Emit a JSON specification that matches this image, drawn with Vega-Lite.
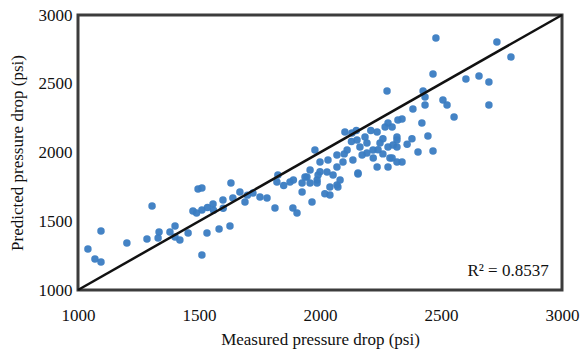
{
  "$schema": "https://vega.github.io/schema/vega-lite/v6.json",
  "width": 484,
  "height": 275,
  "autosize": "none",
  "padding": {"left": 78, "top": 15, "right": 19, "bottom": 66},
  "background": "white",
  "config": {
    "view": {"stroke": "#3c3c3c", "strokeWidth": 3},
    "font": "Liberation Serif",
    "axis": {
      "grid": false, "ticks": false, "domain": false, "labelFlush": false,
      "labelFont": "Liberation Serif", "labelFontSize": 17, "labelColor": "#111",
      "titleFont": "Liberation Serif", "titleFontSize": 17, "titleFontWeight": "normal", "titleColor": "#111"
    }
  },
  "datasets": {
    "pts": [
      {"m":1041,"p":1298},{"m":1070,"p":1225},{"m":1095,"p":1204},{"m":1095,"p":1429},{"m":1202,"p":1342},
      {"m":1285,"p":1371},{"m":1306,"p":1611},{"m":1335,"p":1422},{"m":1331,"p":1378},{"m":1380,"p":1422},
      {"m":1401,"p":1465},{"m":1401,"p":1385},{"m":1421,"p":1364},{"m":1455,"p":1415},{"m":1475,"p":1575},
      {"m":1496,"p":1735},{"m":1512,"p":1582},{"m":1512,"p":1742},{"m":1512,"p":1255},{"m":1533,"p":1415},
      {"m":1558,"p":1625},{"m":1583,"p":1444},{"m":1599,"p":1655},{"m":1628,"p":1465},{"m":1632,"p":1778},
      {"m":1640,"p":1669},{"m":1669,"p":1713},{"m":1690,"p":1640},{"m":1723,"p":1705},{"m":1752,"p":1676},
      {"m":1781,"p":1669},{"m":1814,"p":1596},{"m":1822,"p":1785},{"m":1826,"p":1836},{"m":1876,"p":1785},
      {"m":1888,"p":1596},{"m":1905,"p":1560},{"m":1926,"p":1778},{"m":1926,"p":1713},{"m":1946,"p":1822},
      {"m":1967,"p":1640},{"m":1988,"p":1800},{"m":2041,"p":1691},{"m":2070,"p":1764},{"m":2157,"p":1844},
      {"m":1535,"p":1600},{"m":1490,"p":1560},{"m":1560,"p":1580},{"m":1600,"p":1595},{"m":1700,"p":1690},
      {"m":1979,"p":2018},{"m":2103,"p":2149},{"m":2132,"p":2142},{"m":2153,"p":2091},{"m":2236,"p":2149},
      {"m":2269,"p":2185},{"m":2281,"p":2215},{"m":2322,"p":2236},{"m":2165,"p":2040},{"m":2194,"p":1996},
      {"m":2219,"p":2018},{"m":2248,"p":2069},{"m":2281,"p":2040},{"m":2289,"p":1960},{"m":2318,"p":2040},
      {"m":2112,"p":2018},{"m":2070,"p":1982},{"m":2033,"p":1945},{"m":2000,"p":1931},{"m":1959,"p":1873},
      {"m":1938,"p":1822},{"m":1992,"p":1836},{"m":2029,"p":1858},{"m":2070,"p":1895},{"m":2095,"p":1931},
      {"m":2136,"p":1945},{"m":2157,"p":1851},{"m":2083,"p":1800},{"m":2054,"p":1836},{"m":2236,"p":1895},
      {"m":2281,"p":1895},{"m":2318,"p":1931},{"m":1959,"p":1778},{"m":1988,"p":1778},{"m":2041,"p":1749},
      {"m":2074,"p":1749},{"m":2020,"p":1700},{"m":2174,"p":1982},{"m":2194,"p":2069},{"m":2186,"p":2113},
      {"m":2479,"p":2833},{"m":2731,"p":2804},{"m":2789,"p":2695},{"m":2467,"p":2571},{"m":2603,"p":2535},
      {"m":2657,"p":2556},{"m":2698,"p":2513},{"m":2277,"p":2447},{"m":2426,"p":2447},{"m":2434,"p":2404},
      {"m":2384,"p":2316},{"m":2434,"p":2345},{"m":2508,"p":2382},{"m":2525,"p":2345},{"m":2554,"p":2258},
      {"m":2698,"p":2345},{"m":2339,"p":2244},{"m":2421,"p":2215},{"m":2298,"p":2185},{"m":2318,"p":2113},
      {"m":2446,"p":2120},{"m":2318,"p":2091},{"m":2302,"p":2055},{"m":2405,"p":2004},{"m":2467,"p":2011},
      {"m":2298,"p":1960},{"m":2339,"p":1931},{"m":2260,"p":2100},{"m":2240,"p":2020},{"m":2210,"p":2160},
      {"m":2150,"p":2160},{"m":2130,"p":2080},{"m":2220,"p":1960},{"m":2100,"p":1990},{"m":1890,"p":1800},
      {"m":1850,"p":1760},{"m":2000,"p":1860},{"m":2380,"p":2100},{"m":2360,"p":2060},{"m":2260,"p":1990}
    ],
    "diag": [{"m":1000,"p":1000},{"m":3000,"p":3000}],
    "ann": [{"m":2945,"p":1135,"t":"R² = 0.8537"}]
  },
  "layer": [
    {
      "data": {"name": "pts"},
      "mark": {"type": "circle", "size": 56, "color": "#3a7cc2", "opacity": 0.95},
      "encoding": {
        "x": {"field": "m", "type": "quantitative", "scale": {"domain": [1000, 3000], "nice": false},
              "axis": {"values": [1000,1500,2000,2500,3000], "format": "d", "labelFlush": false, "labelPadding": 17, "title": "Measured pressure drop (psi)", "titlePadding": 8}},
        "y": {"field": "p", "type": "quantitative", "scale": {"domain": [1000, 3000], "nice": false},
              "axis": {"values": [1000,1500,2000,2500,3000], "format": "d", "labelFlush": false, "labelPadding": 6, "title": "Predicted pressure drop (psi)", "titlePadding": 12}}
      }
    },
    {
      "data": {"name": "diag"},
      "mark": {"type": "line", "color": "#111", "strokeWidth": 2.5},
      "encoding": {
        "x": {"field": "m", "type": "quantitative"},
        "y": {"field": "p", "type": "quantitative"}
      }
    },
    {
      "data": {"name": "ann"},
      "mark": {"type": "text", "align": "right", "baseline": "middle", "fontSize": 17, "font": "Liberation Serif", "color": "#111"},
      "encoding": {
        "x": {"field": "m", "type": "quantitative"},
        "y": {"field": "p", "type": "quantitative"},
        "text": {"field": "t"}
      }
    }
  ]
}
